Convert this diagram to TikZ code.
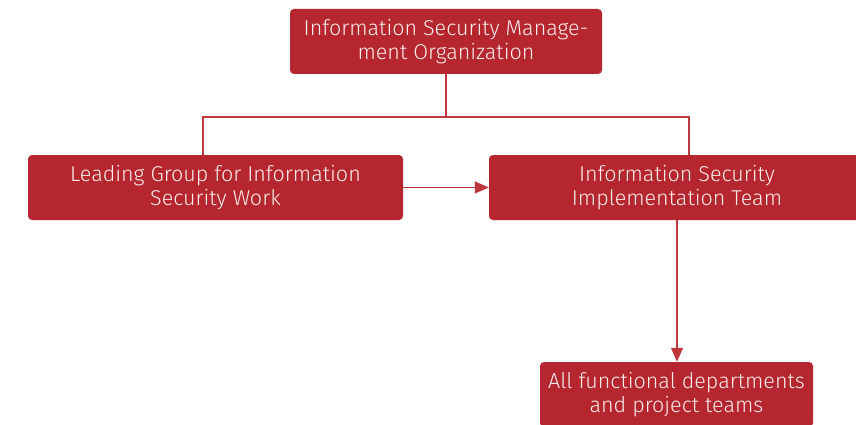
\documentclass[tikz,border=0pt]{standalone}
\usepackage{fontspec}
\setmainfont{Fira Sans}[UprightFont=* Light]
\usetikzlibrary{arrows.meta}
\definecolor{boxred}{HTML}{B5262E}
\definecolor{linered}{HTML}{C0363D}
\definecolor{boxtext}{HTML}{F8ECEC}
\tikzset{
  x=1pt, y=1pt,
  unit/.style={fill=boxred, rounded corners=4pt, text=boxtext, align=center,
    inner sep=0pt, font=\fontsize{21.5}{24.5}\selectfont},
  link/.style={draw=linered, line width=1.3pt},
  flow/.style={link, -{Triangle[length=14pt, width=12pt]}}
}
\begin{document}
\begin{tikzpicture}
\useasboundingbox (0,0) rectangle (856,-425);
\clip (0,0) rectangle (856,-425);
\node[unit, minimum width=312pt, minimum height=65pt] (org) at (446,-41.5)
  {Information Security Manage-\\ment Organization};
\node[unit, minimum width=375pt, minimum height=65pt] (lead) at (215.5,-187.5)
  {Leading Group for Information\\Security Work};
\node[unit, minimum width=376pt, minimum height=65pt] (impl) at (677,-187.5)
  {Information Security\\Implementation Team};
\node[unit, minimum width=273pt, minimum height=65pt] (dept) at (676.5,-394.5)
  {All functional departments\\and project teams};
% tree branch from the organization to both teams
\coordinate (fork) at (446,-117);
\coordinate (forkL) at (203,-117);
\coordinate (forkR) at (689,-117);
\draw[link] (org.south) -- (fork);
\draw[link] (lead.north -| forkL) -- (forkL) -- (forkR) -- (impl.north -| forkR);
% directed flows
\draw[flow] (lead.east) -- (impl.west);
\draw[flow] (impl.south -| 677,0) -- (dept.north -| 677,0);
\end{tikzpicture}
\end{document}
